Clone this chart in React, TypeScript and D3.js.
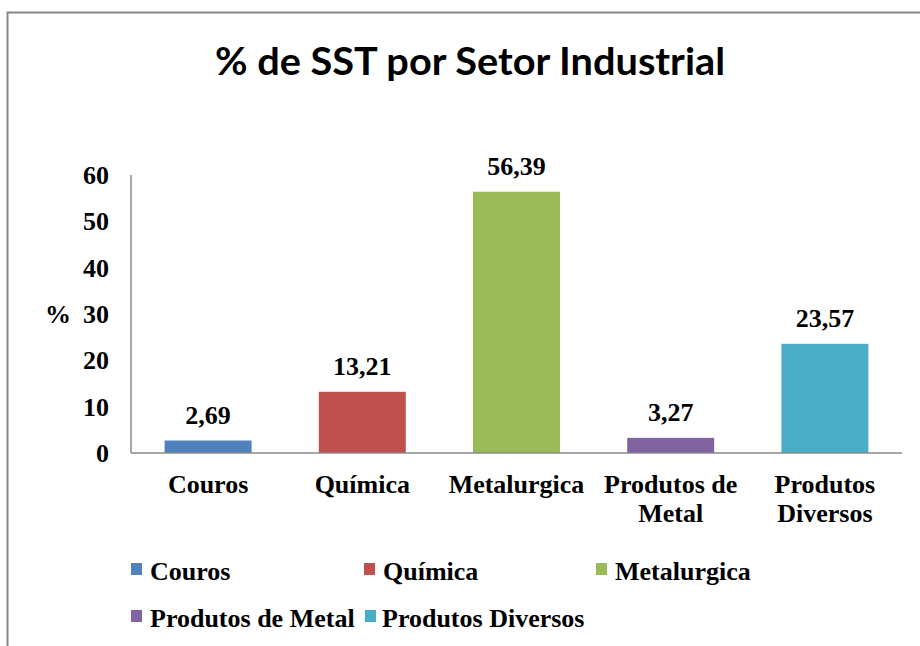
import React from "react";
import * as d3 from "d3";

const categories = ["Couros", "Química", "Metalurgica", "Produtos de Metal", "Produtos Diversos"];
const categoryLines = [["Couros"], ["Química"], ["Metalurgica"], ["Produtos de", "Metal"], ["Produtos", "Diversos"]];
const values = [2.69, 13.21, 56.39, 3.27, 23.57];
const valueLabels = ["2,69", "13,21", "56,39", "3,27", "23,57"];
const colors = ["#4F81BD", "#C0504D", "#9BBB59", "#8064A2", "#4BACC6"];
const yTicks = [0, 10, 20, 30, 40, 50, 60];
const title = "% de SST por Setor Industrial";
const yLabel = "%";

const W = 920;
const H = 646;
const left = 131;
const right = 902;
const top = 175;
const bottom = 453;

const serif = "'Liberation Serif', 'Times New Roman', serif";

export default function App() {
  const x = d3.scaleBand<string>().domain(categories).range([left, right]).paddingInner(0.436).paddingOuter(0.218);
  const y = d3.scaleLinear().domain([0, 60]).range([bottom, top]);

  const legendPos = [
    { mx: 131, tx: 150, y: 580 },
    { mx: 364, tx: 383, y: 580 },
    { mx: 596, tx: 615, y: 580 },
    { mx: 131, tx: 150, y: 627 },
    { mx: 365, tx: 382, y: 627 },
  ];

  return (
    <svg width={W} height={H} style={{ position: "absolute", left: 0, top: 0, background: "#fff" }}>
      <rect x={0} y={0} width={W} height={H} fill="#fff" />
      <rect x={7.5} y={12.5} width={W + 20} height={H + 20} fill="none" stroke="#868686" strokeWidth={2} />
      <text x={470} y={75} textAnchor="middle" fontFamily="Lato, 'Open Sans', sans-serif" fontWeight="bold" fontSize={38} fill="#000" textLength={510} lengthAdjust="spacingAndGlyphs">
        {title}
      </text>

      {values.map((v, i) => (
        <rect key={i} x={x(categories[i])} y={y(v)} width={x.bandwidth()} height={y(0) - y(v)} fill={colors[i]} />
      ))}

      <line x1={left} x2={left} y1={top} y2={bottom} stroke="#888" strokeWidth={1.5} />
      <line x1={left} x2={right} y1={bottom} y2={bottom} stroke="#888" strokeWidth={1.5} />

      {yTicks.map((t) => (
        <text key={t} x={109} y={y(t)} dy="0.35em" textAnchor="end" fontFamily={serif} fontWeight="bold" fontSize={26} fill="#000">
          {t}
        </text>
      ))}
      <text x={58} y={y(30)} dy="0.35em" textAnchor="middle" fontFamily={serif} fontWeight="bold" fontSize={26} fill="#000">
        {yLabel}
      </text>

      {values.map((v, i) => (
        <text key={i} x={(x(categories[i]) as number) + x.bandwidth() / 2} y={y(v) - 17} textAnchor="middle" fontFamily={serif} fontWeight="bold" fontSize={26} fill="#000">
          {valueLabels[i]}
        </text>
      ))}

      {categoryLines.map((lines, i) =>
        lines.map((ln, j) => (
          <text key={i + "-" + j} x={(x(categories[i]) as number) + x.bandwidth() / 2} y={493 + j * 28.5} textAnchor="middle" fontFamily={serif} fontWeight="bold" fontSize={26} fill="#000">
            {ln}
          </text>
        ))
      )}

      {categories.map((c, i) => (
        <g key={c}>
          <rect x={legendPos[i].mx} y={legendPos[i].y - 17} width={11} height={12} fill={colors[i]} />
          <text x={legendPos[i].tx} y={legendPos[i].y} fontFamily={serif} fontWeight="bold" fontSize={26} fill="#000">
            {c}
          </text>
        </g>
      ))}
    </svg>
  );
}
